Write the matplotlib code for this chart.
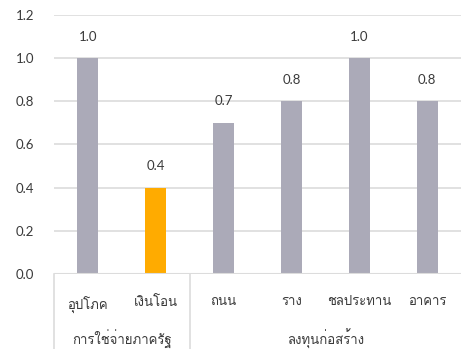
import matplotlib.pyplot as plt
from matplotlib import font_manager
from matplotlib.ft2font import FT2Font
from matplotlib.lines import Line2D

# pick an installed family that actually has Thai glyphs
def thai_family():
    for f in font_manager.fontManager.ttflist:
        try:
            if FT2Font(f.fname).get_char_index(0x0E01):
                return f.name
        except Exception:
            continue
    return "DejaVu Sans"

THAI = thai_family()
plt.rcParams["font.family"] = ["Lato", THAI, "DejaVu Sans"]

categories = ["อุปโภค", "เงินโอน", "ถนน", "ราง", "ชลประทาน", "อาคาร"]
values = [1.0, 0.4, 0.7, 0.8, 1.0, 0.8]
groups = ["การใช่จ่ายภาครัฐ", "ลงทุนก่อสร้าง"]
group_sizes = [2, 4]
highlight = "เงินโอน"

GRAY = "#abaab8"
ORANGE = "#ffab00"
GRID = "#dcdcdc"
TEXT = "#3a3a3a"

fig = plt.figure(figsize=(4.61, 3.49), dpi=100)
ax = fig.add_axes([0.117, 0.215, 0.883, 0.742])

x = range(len(categories))
colors = [ORANGE if c == highlight else GRAY for c in categories]
ax.bar(x, values, width=0.31, color=colors, zorder=3)
for i, v in zip(x, values):
    ax.text(i, v + 0.1, f"{v:.1f}", ha="center", va="center",
            fontsize=9.5, color=TEXT)

ax.set_xlim(-0.5, len(categories) - 0.5)
ax.set_ylim(0, 1.2)
ax.set_yticks([0, 0.2, 0.4, 0.6, 0.8, 1.0, 1.2])
ax.set_yticklabels([f"{t:.1f}" for t in ax.get_yticks()])
ax.grid(axis="y", color=GRID, linewidth=1.2, zorder=0)
for s in ax.spines.values():
    s.set_visible(False)
ax.axhline(0, color=GRID, linewidth=1.5, zorder=4)
ax.tick_params(axis="y", length=0, pad=14, labelsize=9.5, labelcolor=TEXT)
ax.set_xticks(list(x))
ax.set_xticklabels(categories, family=[THAI, "DejaVu Sans"])
ax.tick_params(axis="x", length=0, pad=16, labelsize=9.5, labelcolor=TEXT)

# group labels and separators under the category axis
trans = ax.get_xaxis_transform()
start = 0
edges = [-0.5]
for name, n in zip(groups, group_sizes):
    mid = start + (n - 1) / 2
    ax.text(mid, -0.252, name, transform=trans, ha="center", va="center",
            fontsize=9.5, color=TEXT, family=[THAI, "DejaVu Sans"])
    start += n
    edges.append(start - 0.5)
for e in edges[:-1]:
    ax.add_line(Line2D([e, e], [0, -0.32], transform=trans, color=GRID,
                       linewidth=1.2, clip_on=False))

fig.savefig("out.png", dpi=100)
